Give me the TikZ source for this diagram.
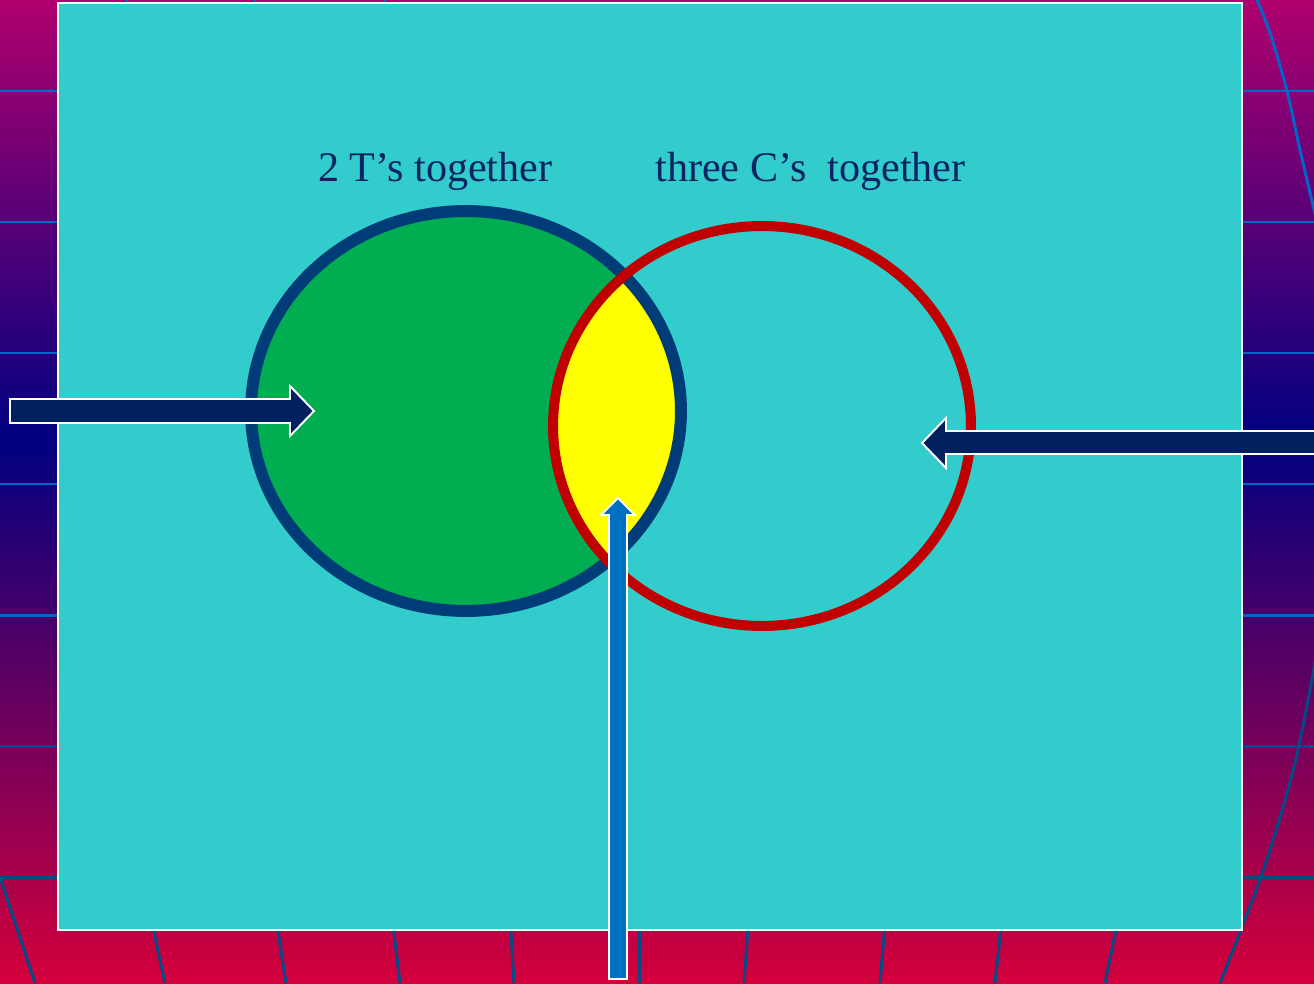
\documentclass[tikz,border=0pt]{standalone}
\usepackage{fontspec}
\setmainfont{Liberation Serif}
\usetikzlibrary{shapes.geometric}
\definecolor{bgtop}{HTML}{B0006E}
\definecolor{bgmid}{HTML}{000080}
\definecolor{bglow}{HTML}{8C0080}
\definecolor{bgbot}{HTML}{D4003C}
\definecolor{gridblue}{HTML}{0066CC}
\definecolor{griddark}{HTML}{004C86}
\definecolor{panel}{HTML}{33CCCC}
\definecolor{teegreen}{HTML}{00AD50}
\definecolor{teeline}{HTML}{003C78}
\definecolor{ceered}{HTML}{C00000}
\definecolor{bothyellow}{HTML}{FFFF00}
\definecolor{labelblue}{HTML}{0A2463}
\definecolor{arrownavy}{HTML}{002060}
\definecolor{arrowblue}{HTML}{0070C0}
\begin{document}
\begin{tikzpicture}[
    x=0.02cm,
    y=-0.02cm,
    gridline/.style={
        line width=1.7pt,
        gridblue
    },
    griddeep/.style={
        line width=1.7pt,
        griddark
    },
    setlabel/.style={
        font=\fontsize{24}{28}\selectfont,
        text=labelblue,
        inner sep=0pt,
        anchor=base west
    },
    setring/.style={
        ellipse,
        inner sep=0pt,
        outer sep=0pt
    },
    blockarrow/.style={
        draw=white,
        line width=1.1pt,
        fill=arrownavy
    }
]

\useasboundingbox (0,0) rectangle (1314,983);
\clip (0,0) rectangle (1314,983);

\shade[top color=bgtop, bottom color=bgmid] (0,0) rectangle (1314,440);
\shade[top color=bgmid, middle color=bglow, bottom color=bgbot] (0,440) rectangle (1314,983);

\foreach \gy in {91,222,353,484,615}
    \draw[gridline] (0,\gy) -- (1314,\gy);
\foreach \gy in {746,877}
    \draw[griddeep] (0,\gy) -- (1314,\gy);

\foreach \gx in {127,255,385}
    \draw[gridline] (\gx,0) -- (\gx,6);

\foreach \xa/\xb in {147/165,273/286,390/400,509/514,639/639,750/744,887/880,1004/995,1122/1105}
    \draw[griddeep] (\xa,900) -- (\xb,983);
\draw[griddeep] (0,877) -- (35,983);
\draw[gridline] plot[smooth] coordinates {(1255,-5) (1270,33) (1287,91) (1300,150) (1320,235)};
\draw[griddeep] plot[smooth] coordinates {(1320,635) (1310,690) (1293,771) (1263,871) (1220,983)};

\fill[panel, draw=white, line width=1.1pt] (58,3) rectangle (1242,930);

\node[setlabel] (teelabel) at (318,182) {2 T’s together};
\node[setlabel] (ceelabel) at (655,182) {three C’s\ \ together};

\fill[teegreen] (466,411) ellipse [x radius=215, y radius=200];
\begin{scope}
    \clip (466,411) ellipse [x radius=215, y radius=200];
    \fill[bothyellow] (762,426) ellipse [x radius=209, y radius=200];
\end{scope}

\node[setring, draw=teeline, line width=6.8pt,
    minimum width=8.6cm, minimum height=8cm] (tees) at (466,411) {};
\node[setring, draw=ceered, line width=5.7pt,
    minimum width=8.36cm, minimum height=8cm] (cees) at (762,426) {};

\draw[blockarrow]
    (10,399) -- (290,399) -- (290,386) -- (314,411)
    -- (290,436) -- (290,423) -- (10,423) -- cycle;

\draw[blockarrow]
    (1320,431) -- (946,431) -- (946,418) -- (922,443)
    -- (946,468) -- (946,454) -- (1320,454) -- cycle;

\draw[blockarrow, fill=arrowblue]
    (609,979) -- (609,515) -- (601,515) -- (618,498)
    -- (635,515) -- (627,515) -- (627,979) -- cycle;

\end{tikzpicture}
\end{document}
